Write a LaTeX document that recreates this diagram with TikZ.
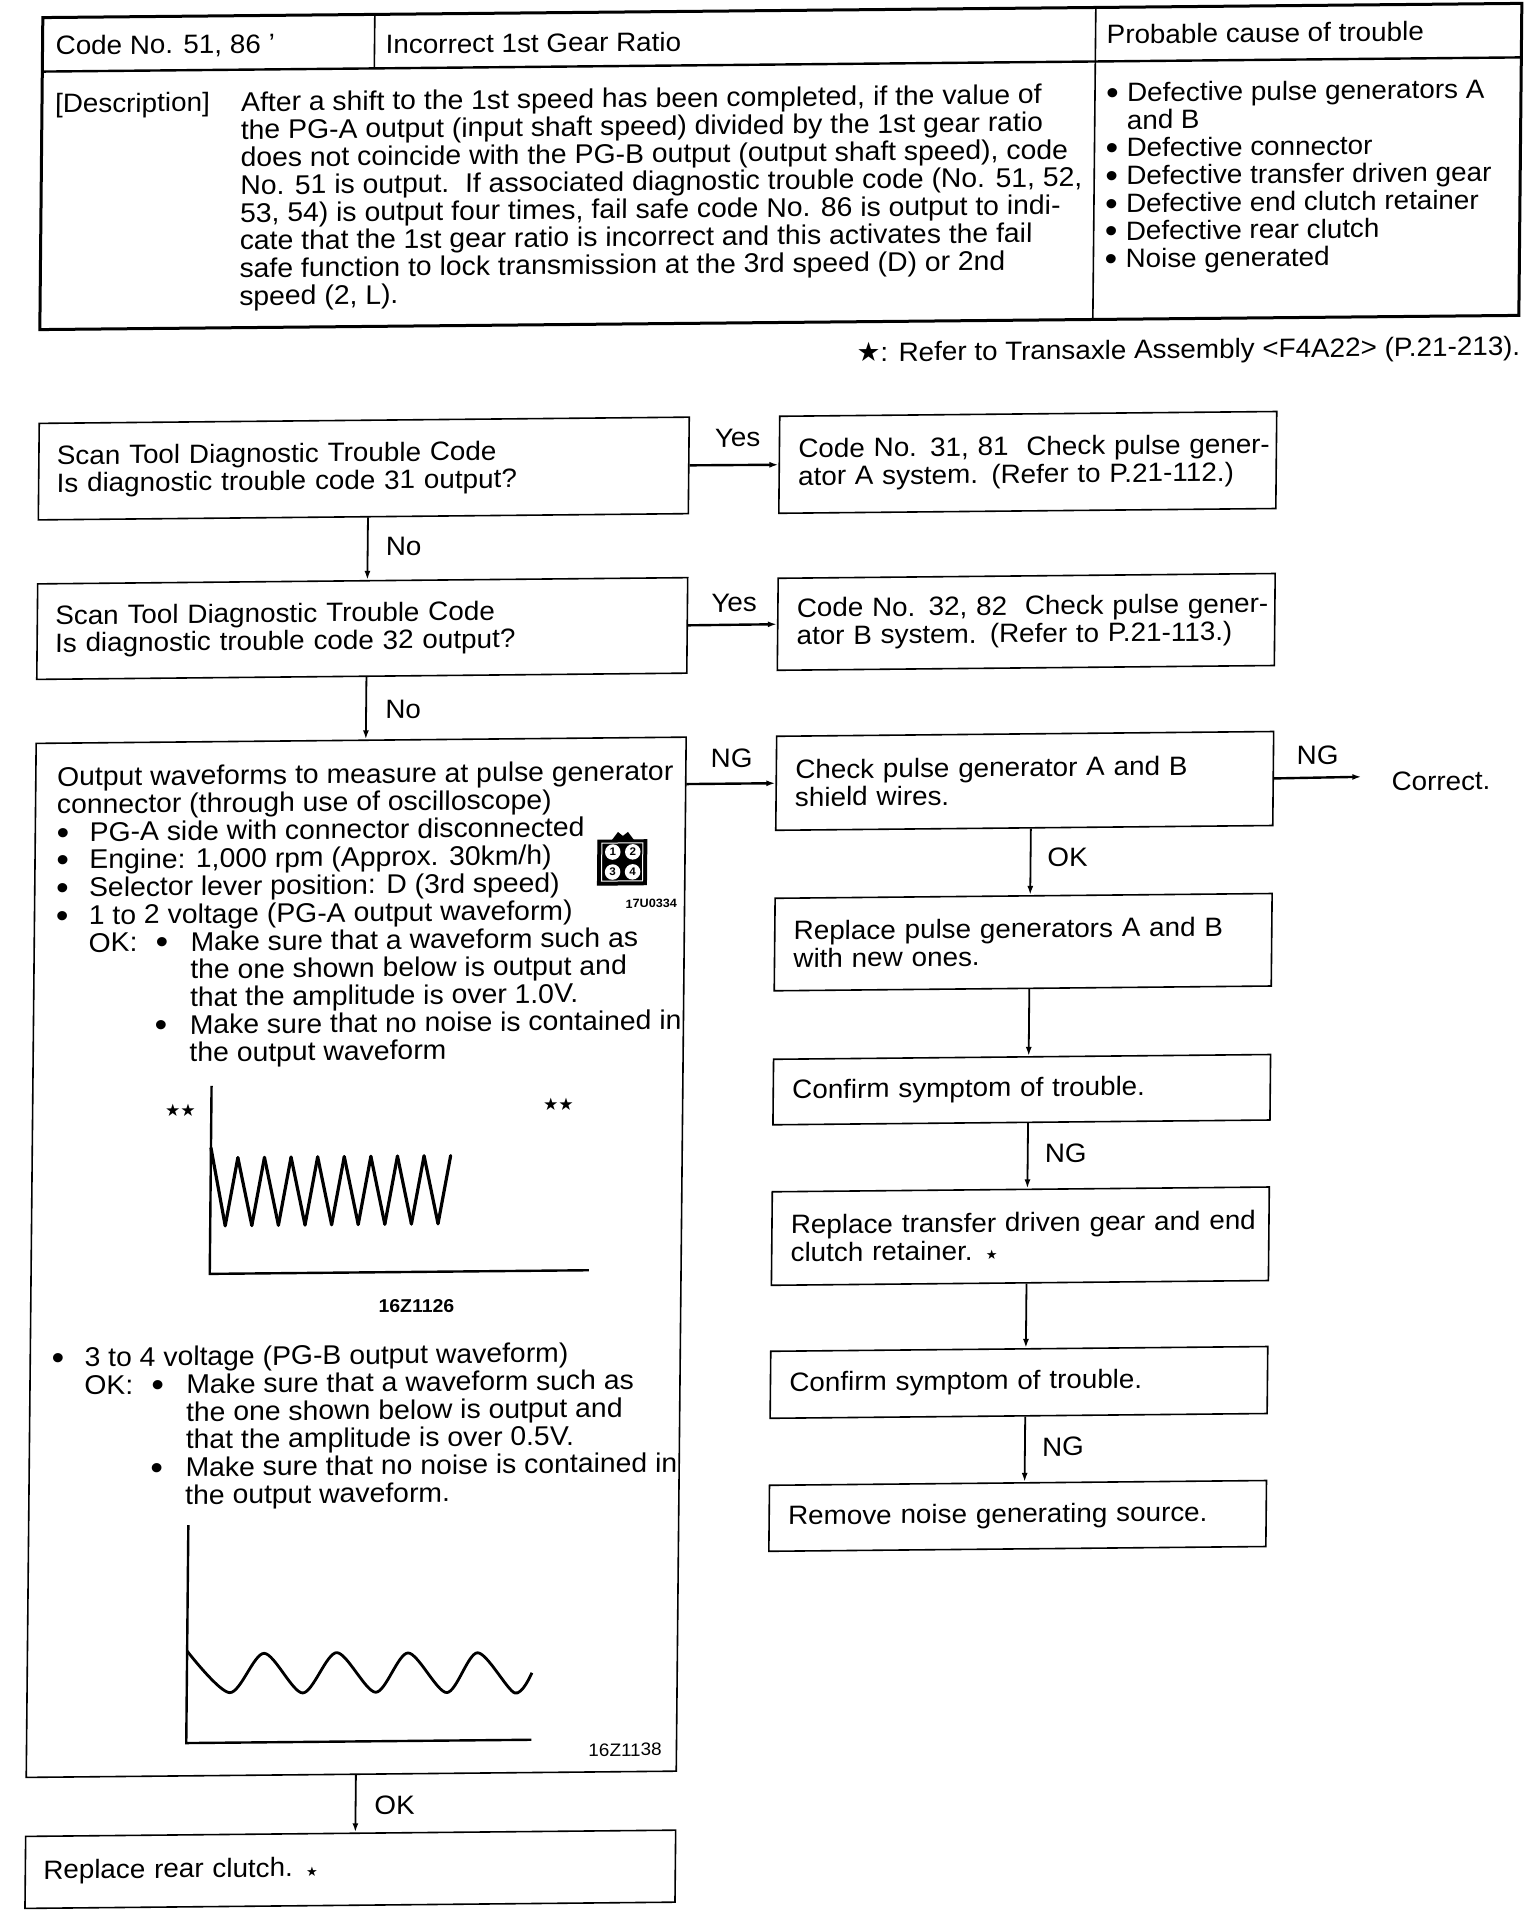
\documentclass[tikz,border=0pt]{standalone}
\usepackage{fontspec}
\setmainfont[FakeStretch=1.05]{Liberation Sans}
\newfontfamily\starfont{DejaVu Sans}
\usetikzlibrary{arrows.meta}
\tikzset{leftbox/.style = {draw, line width=1.6pt, anchor=north west, align=left, inner xsep=18pt, text width=614pt}}
\tikzset{rightbox/.style = {draw, line width=1.6pt, anchor=north west, align=left, inner xsep=19pt, text width=459pt}}
\tikzset{flowarrow/.style = {line width=1.8pt, -{Latex[length=9pt,width=6pt]}}}
\tikzset{sidearrow/.style = {flowarrow, line width=2.4pt}}
\tikzset{textblock/.style = {anchor=north west, align=left, inner sep=0}}
\tikzset{bigtext/.style = {textblock, font=\fontsize{27}{27.7}\selectfont}}
\tikzset{waveline/.style = {line width=3.2pt, line join=round, line cap=round}}
\tikzset{axisline/.style = {line width=2.4pt}}
\tikzset{pinmark/.style = {circle, fill=white, inner sep=0, minimum size=15.5pt, font=\fontsize{11}{11}\selectfont\bfseries}}
\newcommand{\bulmark}{\raisebox{-2.5pt}{\fontsize{34}{27}\selectfont\textbullet}}
\newcommand{\itembul}{\makebox[33pt][l]{\bulmark}}
\newcommand{\subbul}{\hspace*{100pt}\makebox[35pt][l]{\bulmark}}
\newcommand{\okbul}{\hspace*{33pt}\makebox[67pt][l]{OK:}\makebox[35pt][l]{\bulmark}}
\newcommand{\subline}{\hspace*{135pt}}
\newcommand{\cbul}{\makebox[21pt][l]{\bulmark}}

\begin{document}
\begin{tikzpicture}[x=1pt, y=1pt, font=\fontsize{26.5}{27.7}\selectfont]
  \useasboundingbox (0,0) rectangle (1536,-1910);
  \begin{scope}[cm={1,0.0096,0.0096,1,(0,0)}, transform shape]
    % table at the top
    \draw[line width=1.6pt] (375,-18) -- (375,-72);
    \draw[line width=1.6pt] (1096,-18) -- (1096,-330);
    \draw[line width=2.4pt] (43,-72) -- (1522,-72);
    \draw[line width=3pt] (43,-18) rectangle (1522,-330);
    \node[textblock] (codeno) at (56,-36) {Code No. 51, 86 '};
    \node[textblock] (gearratio) at (386,-38) {Incorrect 1st Gear Ratio};
    \node[textblock] (causehead) at (1107,-35) {Probable cause of trouble};
    \node[textblock] (desclabel) at (56,-94) {[Description]};
    \node[bigtext] (desctext) at (242,-94) {After a shift to the 1st speed has been completed, if the value of\\
      the PG-A output (input shaft speed) divided by the 1st gear ratio\\
      does not coincide with the PG-B output (output shaft speed), code\\
      No. 51 is output.\ \ If associated diagnostic trouble code (No. 51, 52,\\
      53, 54) is output four times, fail safe code No. 86 is output to indi-\\
      cate that the 1st gear ratio is incorrect and this activates the fail\\
      safe function to lock transmission at the 3rd speed (D) or 2nd\\
      speed (2, L).};
    \node[textblock] (causelist) at (1107,-93) {\cbul Defective pulse generators A\\
      \hspace*{21pt}and B\\
      \cbul Defective connector\\
      \cbul Defective transfer driven gear\\
      \cbul Defective end clutch retainer\\
      \cbul Defective rear clutch\\
      \cbul Noise generated};
    \node[anchor=east, inner sep=0] (legend) at (1524,-363) {{\starfont ★}: Refer to Transaxle Assembly <F4A22> (P.21-213).};

    % left column
    \coordinate (trunkL) at (373,0);
    \coordinate (trunkR) at (1039,0);
    \node[leftbox, minimum height=96.5pt] (scanA) at (42.5,-423) {Scan Tool Diagnostic Trouble Code\\Is diagnostic trouble code 31 output?};
    \node[leftbox, minimum height=95.5pt] (scanB) at (42.5,-583.5) {Scan Tool Diagnostic Trouble Code\\Is diagnostic trouble code 32 output?};
    \node[leftbox, minimum height=1034pt] (pgwave) at (42.5,-743) {};
    \node[leftbox, minimum height=72pt] (rearclutch) at (42.5,-1836) {Replace rear clutch. {\starfont\fontsize{13}{13}\selectfont ★}};

    % right column
    \node[rightbox, minimum height=97pt] (codeA) at (783,-423) {\mbox{Code No. 31, 81\ \ Check pulse gener-}\\ator A system. (Refer to P.21-112.)};
    \node[rightbox, minimum height=92pt] (codeB) at (783,-585) {\mbox{Code No. 32, 82\ \ Check pulse gener-}\\ator B system. (Refer to P.21-113.)};
    \node[rightbox, minimum height=94pt] (shield) at (783,-743) {Check pulse generator A and B\\shield wires.};
    \node[rightbox, minimum height=92.5pt] (replacepg) at (783,-905) {Replace pulse generators A and B\\with new ones.};
    \node[rightbox, minimum height=65.5pt] (confirmA) at (783,-1066) {Confirm symptom of trouble.};
    \node[rightbox, minimum height=93.5pt] (replacegear) at (783,-1198.5) {\mbox{Replace transfer driven gear and end}\\clutch retainer. {\starfont\fontsize{13}{13}\selectfont ★}};
    \node[rightbox, minimum height=67pt] (confirmB) at (783,-1358) {Confirm symptom of trouble.};
    \node[rightbox, minimum height=66pt] (noise) at (783,-1492) {Remove noise generating source.};
    \node[anchor=west, inner sep=0] (correct) at (1399,-795) {Correct.};
    \coordinate (correctend) at (1369,-790);

    % connectors
    \draw[flowarrow] (scanA.south -| trunkL) -- (scanB.north -| trunkL);
    \draw[flowarrow] (scanB.south -| trunkL) -- (pgwave.north -| trunkL);
    \draw[flowarrow] (pgwave.south -| trunkL) -- (rearclutch.north -| trunkL);
    \draw[sidearrow] (scanA.east) -- (codeA.west);
    \draw[sidearrow] (scanB.east) -- (codeB.west);
    \draw[sidearrow] (pgwave.east |- shield.west) -- (shield.west);
    \draw[sidearrow] (shield.east) -- (correctend);
    \draw[flowarrow] (shield.south -| trunkR) -- (replacepg.north -| trunkR);
    \draw[flowarrow] (replacepg.south -| trunkR) -- (confirmA.north -| trunkR);
    \draw[flowarrow] (confirmA.south -| trunkR) -- (replacegear.north -| trunkR);
    \draw[flowarrow] (replacegear.south -| trunkR) -- (confirmB.north -| trunkR);
    \draw[flowarrow] (confirmB.south -| trunkR) -- (noise.north -| trunkR);

    % connector labels
    \node (yesA) at (742,-445) {Yes};
    \node (noA) at (409,-550) {No};
    \node (yesB) at (740,-610) {Yes};
    \node (noB) at (410,-713) {No};
    \node (ngA) at (739,-765) {NG};
    \node (ngB) at (1325,-768) {NG};
    \node (okA) at (1076,-868) {OK};
    \node (ngC) at (1077,-1164) {NG};
    \node (ngD) at (1077,-1457) {NG};
    \node (okB) at (412,-1809) {OK};

    % text in the big box
    \node[bigtext] (waveA) at (64.5,-767) {Output waveforms to measure at pulse generator\\
      connector (through use of oscilloscope)\\
      \itembul PG-A side with connector disconnected\\
      \itembul Engine: 1,000 rpm (Approx. 30km/h)\\
      \itembul Selector lever position: D (3rd speed)\\
      \itembul 1 to 2 voltage (PG-A output waveform)\\
      \okbul Make sure that a waveform such as\\
      \subline the one shown below is output and\\
      \subline that the amplitude is over 1.0V.\\
      \subbul Make sure that no noise is contained in\\
      \subline the output waveform};
    \node[bigtext] (waveB) at (64.5,-1348) {\itembul 3 to 4 voltage (PG-B output waveform)\\
      \okbul Make sure that a waveform such as\\
      \subline the one shown below is output and\\
      \subline that the amplitude is over 0.5V.\\
      \subbul Make sure that no noise is contained in\\
      \subline the output waveform.};

    % connector symbol
    \filldraw[line width=1pt] (606,-846) rectangle (655,-891);
    \fill (620,-846) -- (626,-838) -- (631,-842) -- (636,-838) -- (642,-846) -- cycle;
    \draw[white, line width=1pt] (610,-849) rectangle (651,-887);
    \node[pinmark] (pinA) at (621,-858) {1};
    \node[pinmark] (pinB) at (641,-858) {2};
    \node[pinmark] (pinC) at (621,-878) {3};
    \node[pinmark] (pinD) at (641,-878) {4};
    \node[font=\fontsize{12}{12}\selectfont\bfseries, inner sep=0] (figA) at (660,-910) {17U0334};

    % upper waveform
    \draw[axisline] (222,-1088) -- (222,-1276) -- (601,-1276);
    \draw[waveline] (222,-1150) -- (237,-1228);
    \foreach \i in {0,...,8}
      \draw[waveline] ({237+26.6*\i},-1228) -- ({249+26.6*\i},-1160);
    \foreach \i in {0,...,7}
      \draw[waveline] ({249+26.6*\i},-1160) -- ({263.6+26.6*\i},-1228);
    \node[font=\starfont\fontsize{17}{17}\selectfont, inner sep=0] (starsA) at (191,-1112) {★★};
    \node[font=\starfont\fontsize{17}{17}\selectfont, inner sep=0] (starsB) at (569,-1110) {★★};
    \node[font=\fontsize{18.5}{18.5}\selectfont\bfseries, inner sep=0] (figB) at (429,-1310) {16Z1126};

    % lower waveform
    \draw[axisline] (203,-1527) -- (203,-1745) -- (548,-1745);
    \draw[line width=2.8pt, line join=round] plot[smooth] coordinates {(203,-1653) (246,-1695) (280,-1656) (319,-1696) (352.6,-1656) (392,-1696) (424,-1657) (463,-1697) (493.5,-1657.5) (531,-1698) (548,-1678)};
    \node[font=\fontsize{18}{18}\selectfont, inner sep=0] (figC) at (642,-1756) {16Z1138};
  \end{scope}
\end{tikzpicture}
\end{document}
